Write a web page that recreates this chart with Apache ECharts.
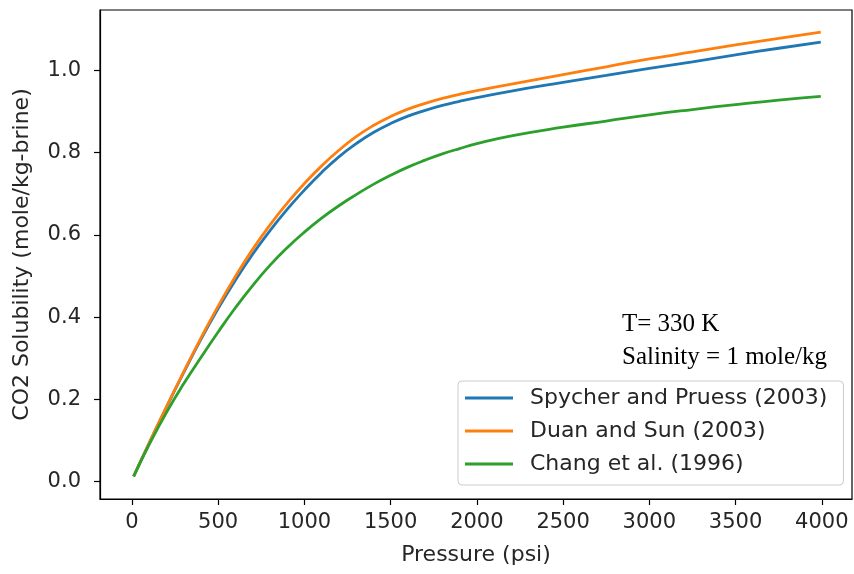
<!DOCTYPE html>
<html>
<head>
<meta charset="utf-8">
<script src="https://cdn.jsdelivr.net/npm/echarts@6/dist/echarts.min.js"></script>
<style>
  html, body { margin: 0; padding: 0; background: #fff; }
  #chart { width: 854px; height: 574px; }
</style>
</head>
<body>
<div id="chart"></div>
<script>
// Pressure grid (psi)
const pressure = [10, 100, 200, 300, 400, 500, 600, 700, 800, 900, 1000, 1100, 1200, 1300, 1400, 1500,
  1600, 1700, 1800, 1900, 2000, 2200, 2500, 2750, 3000, 3250, 3500, 3750, 3994];

// CO2 solubility (mole/kg-brine) for each model
const spycherPruess = [0.013, 0.094, 0.181, 0.265, 0.346, 0.421, 0.490, 0.553, 0.610, 0.662, 0.709, 0.752, 0.790,
  0.822, 0.849, 0.871, 0.889, 0.903, 0.915, 0.925, 0.934, 0.950, 0.971, 0.988, 1.005, 1.021, 1.038, 1.054, 1.069];
const duanSun = [0.013, 0.094, 0.182, 0.267, 0.349, 0.427, 0.499, 0.565, 0.624, 0.677, 0.725, 0.768, 0.806,
  0.839, 0.866, 0.888, 0.906, 0.920, 0.932, 0.942, 0.951, 0.967, 0.990, 1.009, 1.028, 1.045, 1.062, 1.078, 1.093];
const changEtAl = [0.013, 0.090, 0.168, 0.238, 0.302, 0.364, 0.423, 0.477, 0.526, 0.569, 0.607, 0.641, 0.671,
  0.698, 0.723, 0.745, 0.765, 0.782, 0.797, 0.810, 0.822, 0.841, 0.862, 0.877, 0.892, 0.905, 0.917, 0.928, 0.937];

const seriesNames = ['Spycher and Pruess (2003)', 'Duan and Sun (2003)', 'Chang et al. (1996)'];
const seriesColors = ['#1f77b4', '#ff7f0e', '#2ca02c'];

const xTicks = [0, 500, 1000, 1500, 2000, 2500, 3000, 3500, 4000];
const yTicks = [0.0, 0.2, 0.4, 0.6, 0.8, 1.0];

const xTitle = 'Pressure (psi)';
const yTitle = 'CO2 Solubility (mole/kg-brine)';
const noteLines = ['T= 330 K', 'Salinity = 1 mole/kg'];

const pairs = vals => pressure.map((p, i) => [p, vals[i]]);
const allValues = [spycherPruess, duanSun, changEtAl];

const textColor = '#262626';
const tickFont = { fontFamily: 'DejaVu Sans', fontSize: 21, color: textColor };
const titleFont = { fontFamily: 'DejaVu Sans', fontSize: 22, color: textColor };

const chart = echarts.init(document.getElementById('chart'), null, { renderer: 'canvas' });

chart.setOption({
  animation: false,
  backgroundColor: '#fff',
  grid: {
    left: 100, right: 2, top: 10, bottom: 75,
    show: true, borderColor: '#000', borderWidth: 1.2, containLabel: false
  },
  xAxis: {
    type: 'value',
    min: -185, max: 4175,
    name: xTitle,
    nameLocation: 'middle',
    nameGap: 45,
    nameTextStyle: titleFont,
    axisLine: { show: true, onZero: false, lineStyle: { color: '#000', width: 1.2 } },
    axisTick: { show: true, inside: false, length: 6, lineStyle: { color: '#000', width: 1.2 }, customValues: xTicks },
    axisLabel: { ...tickFont, margin: 13, customValues: xTicks, formatter: v => String(v) },
    splitLine: { show: false }
  },
  yAxis: {
    type: 'value',
    min: -0.042, max: 1.147,
    name: yTitle,
    nameLocation: 'middle',
    nameGap: 67,
    nameTextStyle: titleFont,
    axisLine: { show: true, onZero: false, lineStyle: { color: '#000', width: 1.2 } },
    axisTick: { show: true, inside: false, length: 6, lineStyle: { color: '#000', width: 1.2 }, customValues: yTicks },
    axisLabel: { ...tickFont, margin: 19, customValues: yTicks, formatter: v => v.toFixed(1) },
    splitLine: { show: false }
  },
  legend: {
    orient: 'vertical',
    left: 458, top: 381,
    padding: [6, 16, 10, 7],
    itemGap: 11,
    itemWidth: 48,
    itemHeight: 3,
    icon: 'rect',
    backgroundColor: 'rgba(255,255,255,0.8)',
    borderColor: '#cccccc',
    borderWidth: 1,
    borderRadius: 4,
    textStyle: { ...titleFont, padding: [0, 0, 0, 12] },
    data: seriesNames
  },
  graphic: [
    {
      type: 'text', left: 622, top: 312,
      style: { text: noteLines[0], font: '25px "Liberation Serif"', fill: '#000' }
    },
    {
      type: 'text', left: 622, top: 345,
      style: { text: noteLines[1], font: '25px "Liberation Serif"', fill: '#000' }
    }
  ],
  series: seriesNames.map((name, i) => ({
    name,
    type: 'line',
    data: pairs(allValues[i]),
    smooth: 0.5,
    showSymbol: false,
    symbol: 'none',
    lineStyle: { color: seriesColors[i], width: 2.8 },
    itemStyle: { color: seriesColors[i] },
    z: 2 + i
  }))
});
</script>
</body>
</html>
